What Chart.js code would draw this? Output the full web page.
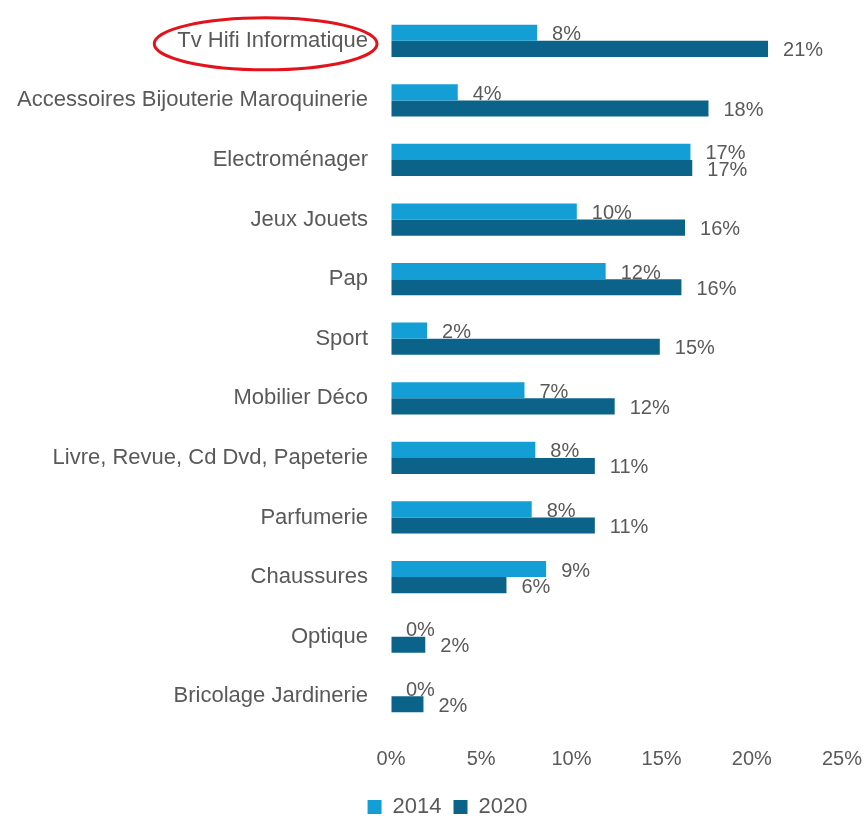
<!DOCTYPE html>
<html>
<head>
<meta charset="utf-8">
<script src="https://cdn.jsdelivr.net/npm/chart.js@4.4.1/dist/chart.umd.min.js"></script>
<style>
  html, body { margin: 0; padding: 0; background: #ffffff; }
  #wrap { width: 865px; height: 816px; }
</style>
</head>
<body>
<div id="wrap"><canvas id="barChart"></canvas></div>
<script>
/* --------------- Data --------------------- */
const categories = [
  "Tv Hifi Informatique",
  "Accessoires Bijouterie Maroquinerie",
  "Electroménager",
  "Jeux Jouets",
  "Pap",
  "Sport",
  "Mobilier Déco",
  "Livre, Revue, Cd Dvd, Papeterie",
  "Parfumerie",
  "Chaussures",
  "Optique",
  "Bricolage Jardinerie",
];
const seriesNames = ["2014", "2020"];
const values2014 = [8.1, 3.7, 16.6, 10.3, 11.9, 2.0, 7.4, 8.0, 7.8, 8.6, 0, 0];
const values2020 = [20.9, 17.6, 16.7, 16.3, 16.1, 14.9, 12.4, 11.3, 11.3, 6.4, 1.9, 1.8];
const tickValues = [0, 5, 10, 15, 20, 25];

/* --------------- Styles --------------------- */
const textColor = "#595959";
const barColors = ["#139fd6", "#0c6389"];
const fontFamily = "'Liberation Sans', Arial, sans-serif";
const catFontSize = 22;
const padLeft = 10;
// invisible tick marks give the gap between axis and labels
const hiddenGrid = (len) => ({
  display: true,
  color: "rgba(0,0,0,0)",
  drawOnChartArea: false,
  drawTicks: true,
  tickLength: len,
});

/* --------------- Value labels at bar ends --------------------- */
const valueLabels = {
  id: "valueLabels",
  afterDatasetsDraw(chart) {
    const ctx = chart.ctx;
    ctx.save();
    ctx.font = "20px " + fontFamily;
    ctx.fillStyle = textColor;
    ctx.textAlign = "left";
    ctx.textBaseline = "middle";
    chart.data.datasets.forEach((ds, i) => {
      const meta = chart.getDatasetMeta(i);
      meta.data.forEach((bar, j) => {
        ctx.fillText(Math.round(ds.data[j]) + "%", bar.x + 15, bar.y + 2);
      });
    });
    ctx.restore();
  },
};

/* --------------- Red ring round the first category --------------------- */
const highlightRing = {
  id: "highlightRing",
  afterDraw(chart) {
    const yScale = chart.scales.y;
    const ctx = chart.ctx;
    ctx.save();
    ctx.font = catFontSize + "px " + fontFamily;
    const w = ctx.measureText(categories[0]).width;
    const right = yScale.right - 23;
    const cx = right - w / 2 - 7;
    const cy = yScale.getPixelForValue(0) + 3;
    ctx.beginPath();
    ctx.ellipse(cx, cy, w / 2 + 16, 26, 0, 0, Math.PI * 2);
    ctx.strokeStyle = "#e3121b";
    ctx.lineWidth = 3;
    ctx.stroke();
    ctx.restore();
  },
};

/* --------------- Move legend a bit lower / right --------------------- */
const legendShift = {
  id: "legendShift",
  afterLayout(chart) {
    const lg = chart.legend;
    const dy = (chart.height - 32) - lg.top;
    lg.top += dy; lg.bottom += dy;
    lg.left += 10; lg.right += 10;
  },
};

/* --------------- Chart --------------------- */
const barChart = new Chart(document.getElementById("barChart"), {
  type: "bar",
  plugins: [valueLabels, highlightRing, legendShift],
  data: {
    labels: categories,
    datasets: [
      { label: seriesNames[0], data: values2014, backgroundColor: barColors[0] },
      { label: seriesNames[1], data: values2020, backgroundColor: barColors[1] },
    ],
  },
  options: {
    indexAxis: "y",
    responsive: true,
    maintainAspectRatio: false,
    animation: false,
    layout: { padding: { top: 0, right: 0, bottom: 0, left: padLeft } },
    datasets: { bar: { categoryPercentage: 0.54, barPercentage: 1 } },
    scales: {
      x: {
        min: 0,
        max: 25,
        afterBuildTicks: (s) => { s.ticks = tickValues.map((v) => ({ value: v })); },
        afterFit: (s) => { s.height = 46; },
        grid: hiddenGrid(18),
        border: { display: false },
        ticks: {
          padding: 3,
          color: textColor,
          font: { size: 20, family: fontFamily },
          callback: (v) => v + "%",
        },
      },
      y: {
        grid: hiddenGrid(23),
        border: { display: false },
        afterFit: (s) => { s.width = 391 - padLeft; },
        ticks: {
          padding: 0,
          color: textColor,
          font: { size: catFontSize, family: fontFamily, lineHeight: 1 },
        },
      },
    },
    plugins: {
      tooltip: { enabled: false },
      legend: {
        position: "bottom",
        labels: {
          boxWidth: 14,
          boxHeight: 14,
          padding: 12,
          color: textColor,
          font: { size: 22, family: fontFamily },
        },
      },
    },
  },
});
</script>
</body>
</html>
